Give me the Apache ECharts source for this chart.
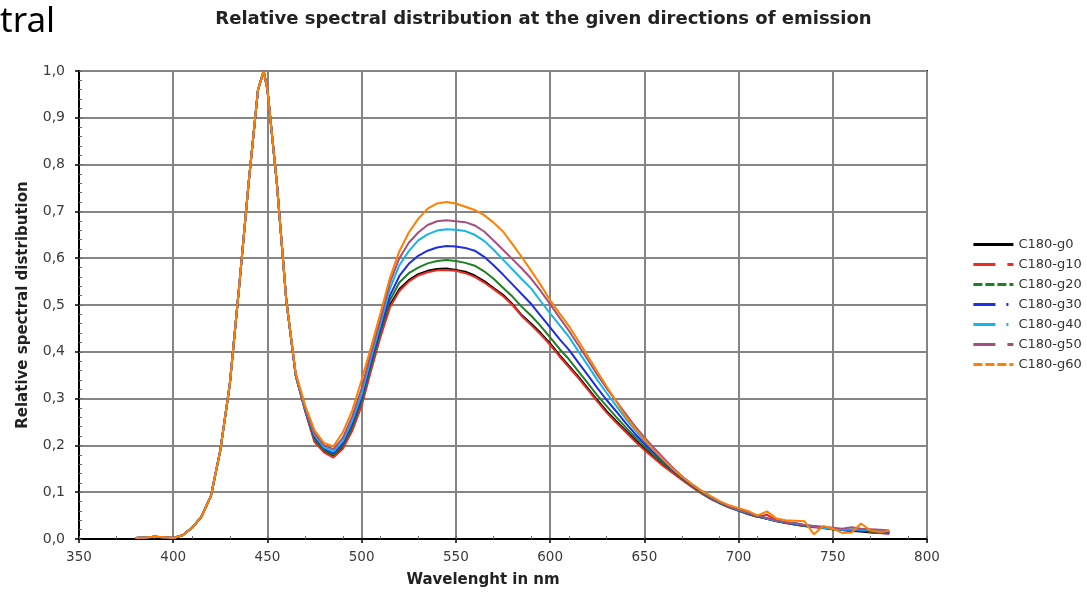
<!DOCTYPE html>
<html><head><meta charset="utf-8">
<script src="https://cdn.jsdelivr.net/npm/echarts@6/dist/echarts.min.js"></script>
<style>html,body{margin:0;padding:0;background:#fff}#c{width:1087px;height:593px}</style>
</head><body><div id="c"></div>
<script>
const wavelengths = [380,385,390,395,400,405,410,415,420,425,430,435,440,445,448,450,455,460,
  465,470,475,480,485,490,495,500,505,510,515,520,525,530,535,540,545,550,555,560,
  565,570,575,580,585,590,595,600,605,610,615,620,625,630,635,640,645,650,655,660,
  665,670,675,680,685,690,695,700,705,710,715,720,725,730,735,740,745,750,755,760,
  765,770,775,780];

const seriesNames = ['C180-g0','C180-g10','C180-g20','C180-g30','C180-g40','C180-g50','C180-g60'];

const g0 = [0.002,0.003,0.005,0.004,0.002,0.008,0.024,0.048,0.092,0.19,0.33,0.54,0.76,0.96,1.0,0.96,0.76,0.51,
  0.35,0.275,0.21,0.188,0.178,0.197,0.236,0.29,0.365,0.437,
  0.5,0.534,0.553,0.566,0.573,0.577,0.578,0.575,0.571,0.563,
  0.551,0.536,0.522,0.502,0.478,0.46,0.44,0.418,0.393,0.37,
  0.347,0.322,0.297,0.273,0.252,0.232,0.212,0.193,0.175,0.158,
  0.143,0.128,0.113,0.099,0.087,0.077,0.068,0.061,0.054,0.048,
  0.043,0.038,0.034,0.031,0.028,0.026,0.024,0.021,0.019,0.017,
  0.016,0.014,0.013,0.012];
const g10 = [0.002,0.003,0.005,0.004,0.002,0.008,0.024,0.048,0.092,0.19,0.33,0.54,0.76,0.96,1.0,0.96,0.76,0.51,
  0.349,0.273,0.207,0.185,0.174,0.193,0.231,0.285,0.36,0.432,
  0.495,0.53,0.55,0.563,0.57,0.574,0.575,0.573,0.568,0.56,
  0.548,0.534,0.519,0.5,0.476,0.457,0.437,0.415,0.39,0.367,
  0.344,0.319,0.294,0.27,0.249,0.229,0.209,0.19,0.173,0.156,
  0.141,0.126,0.112,0.098,0.086,0.076,0.067,0.06,0.053,0.047,
  0.052,0.04,0.034,0.031,0.028,0.025,0.023,0.021,0.019,0.017,
  0.02,0.015,0.013,0.012];
const g20 = [0.002,0.003,0.005,0.004,0.002,0.008,0.024,0.048,0.092,0.19,0.33,0.54,0.76,0.96,1.0,0.96,0.76,0.51,
  0.35,0.276,0.214,0.19,0.18,0.2,0.24,0.295,0.37,0.443,
  0.51,0.548,0.568,0.58,0.589,0.594,0.596,0.594,0.59,0.584,
  0.572,0.556,0.537,0.518,0.496,0.477,0.455,0.431,0.406,0.384,
  0.358,0.333,0.307,0.284,0.261,0.239,0.218,0.198,0.18,0.162,
  0.146,0.13,0.115,0.1,0.088,0.077,0.068,0.061,0.054,0.048,
  0.043,0.039,0.035,0.031,0.028,0.026,0.024,0.021,0.02,0.019,
  0.018,0.016,0.015,0.014];
const g30 = [0.002,0.003,0.005,0.004,0.002,0.008,0.024,0.048,0.092,0.19,0.33,0.54,0.76,0.96,1.0,0.96,0.76,0.51,
  0.35,0.277,0.218,0.193,0.183,0.204,0.246,0.302,0.378,0.45,
  0.52,0.562,0.588,0.605,0.616,0.623,0.626,0.625,0.622,0.616,
  0.603,0.585,0.565,0.544,0.523,0.502,0.477,0.452,0.427,0.404,
  0.377,0.35,0.323,0.297,0.273,0.248,0.225,0.204,0.185,0.166,
  0.148,0.131,0.116,0.102,0.089,0.078,0.069,0.062,0.055,0.049,
  0.044,0.039,0.035,0.032,0.029,0.027,0.024,0.022,0.02,0.018,
  0.019,0.017,0.016,0.015];
const g40 = [0.002,0.003,0.005,0.004,0.002,0.008,0.024,0.048,0.092,0.19,0.33,0.54,0.76,0.96,1.0,0.96,0.76,0.51,
  0.35,0.278,0.222,0.196,0.187,0.209,0.253,0.31,0.388,0.46,
  0.535,0.585,0.615,0.638,0.651,0.659,0.662,0.661,0.658,0.65,
  0.637,0.618,0.597,0.576,0.555,0.535,0.508,0.482,0.457,0.432,
  0.401,0.371,0.34,0.312,0.285,0.258,0.233,0.21,0.19,0.17,
  0.15,0.133,0.117,0.103,0.09,0.079,0.07,0.062,0.056,0.05,
  0.044,0.039,0.036,0.033,0.03,0.027,0.024,0.022,0.02,0.021,
  0.02,0.019,0.018,0.017];
const g50 = [0.002,0.003,0.005,0.004,0.002,0.008,0.024,0.048,0.092,0.19,0.33,0.54,0.76,0.96,1.0,0.96,0.76,0.51,
  0.352,0.28,0.226,0.2,0.192,0.216,0.262,0.322,0.398,0.47,
  0.548,0.6,0.633,0.655,0.671,0.679,0.681,0.679,0.677,0.67,
  0.657,0.638,0.618,0.598,0.578,0.556,0.53,0.502,0.473,0.445,
  0.414,0.383,0.351,0.322,0.295,0.268,0.241,0.217,0.195,0.174,
  0.153,0.134,0.118,0.104,0.091,0.08,0.07,0.063,0.057,0.05,
  0.045,0.04,0.036,0.034,0.03,0.028,0.026,0.024,0.022,0.025,
  0.022,0.021,0.02,0.018];
const g60 = [0.002,0.003,0.005,0.004,0.002,0.008,0.024,0.048,0.092,0.19,0.33,0.54,0.76,0.96,1.0,0.96,0.76,0.51,
  0.355,0.285,0.232,0.205,0.198,0.228,0.275,0.34,0.41,0.483,
  0.558,0.615,0.655,0.684,0.706,0.717,0.72,0.717,0.71,0.703,
  0.692,0.676,0.657,0.63,0.602,0.573,0.543,0.51,0.482,0.455,
  0.423,0.391,0.358,0.326,0.295,0.263,0.237,0.213,0.19,0.17,
  0.15,0.133,0.118,0.104,0.092,0.081,0.072,0.066,0.06,0.05,
  0.059,0.044,0.04,0.039,0.038,0.01,0.028,0.022,0.013,0.014,
  0.033,0.018,0.015,0.017];

const seriesValues = [g0, g10, g20, g30, g40, g50, g60];
const xMin = 350, xMax = 800, xStep = 50, xMinorStep = 20;
const yMin = 0, yMax = 1, yStep = 0.1, yMinorStep = 0.02;

const colors = ['#000000','#ee2b1f','#1f7f23','#1d2ee6','#16b5e8','#a4507f','#ff8000'];
const legendDash = ['solid',[22,12],[9,3],[22,11,2,11],[22,11,2,11],[22,12],[9,3]];

const font = 'DejaVu Sans';
const chart = echarts.init(document.getElementById('c'), null, {renderer:'canvas'});
chart.setOption({
  animation: false,
  backgroundColor: '#ffffff',
  title: {
    text: 'Relative spectral distribution at the given directions of emission',
    left: 'center', top: 5,
    textStyle: {fontFamily: font, fontSize: 18, fontWeight: 'bold', color: '#222'}
  },
  graphic: [{
    type: 'text', left: 0, top: 5,
    style: {text: 'tral', font: '35px "Noto Sans"', fill: '#000'}
  }],
  legend: {
    orient: 'vertical', left: 972, top: 238, padding: 0,
    itemWidth: 40, itemHeight: 14, itemGap: 7,
    textStyle: {fontFamily: font, fontSize: 13, color: '#333'},
    data: seriesNames.map((n, i) => ({
      name: n,
      itemStyle: {opacity: 0},
      lineStyle: {type: legendDash[i], width: 2.8, color: colors[i]}
    }))
  },
  grid: {left: 79, right: 160, top: 71, bottom: 50, show: true, borderColor: '#000', borderWidth: 2},
  xAxis: [{
    type: 'value', min: xMin, max: xMax, interval: xStep,
    name: 'Wavelenght in nm', nameLocation: 'middle', nameGap: 34,
    nameTextStyle: {fontFamily: font, fontSize: 15, fontWeight: 'bold', color: '#222', padding: [0, 40, 0, 0]},
    axisLine: {lineStyle: {color: '#000', width: 2}},
    axisTick: {show: true, length: 4, lineStyle: {color: '#000', width: 1.5}},
    axisLabel: {fontFamily: font, fontSize: 13.5, color: '#3a3a3a', margin: 11},
    splitLine: {show: true, lineStyle: {color: '#858585', width: 2}}
  }, {
    type: 'value', position: 'bottom', min: xMin, max: xMax, interval: xMinorStep,
    axisLine: {show: false}, axisLabel: {show: false}, splitLine: {show: false},
    axisTick: {show: true, inside: true, length: 3, lineStyle: {color: '#666', width: 1}}
  }],
  yAxis: [{
    type: 'value', min: yMin, max: yMax, interval: yStep,
    name: 'Relative spectral distribution', nameLocation: 'middle', nameGap: 48,
    nameTextStyle: {fontFamily: font, fontSize: 15, fontWeight: 'bold', color: '#222'},
    axisLine: {show: true, lineStyle: {color: '#000', width: 2}},
    axisTick: {show: true, length: 4, lineStyle: {color: '#000', width: 1.5}},
    axisLabel: {fontFamily: font, fontSize: 14, color: '#3a3a3a', margin: 14,
      formatter: v => v.toFixed(1).replace('.', ',')},
    splitLine: {show: true, lineStyle: {color: '#858585', width: 2}}
  }, {
    type: 'value', position: 'left', min: yMin, max: yMax, interval: yMinorStep,
    axisLine: {show: false}, axisLabel: {show: false}, splitLine: {show: false},
    axisTick: {show: true, inside: true, length: 3, lineStyle: {color: '#666', width: 1}}
  }],
  series: seriesNames.map((n, i) => ({
    name: n, type: 'line', xAxisIndex: 0, yAxisIndex: 0,
    data: wavelengths.map((w, k) => [w, seriesValues[i][k]]),
    symbol: 'none', smooth: false,
    lineStyle: {width: 2, color: colors[i]},
    itemStyle: {color: colors[i]}
  }))
});
</script></body></html>
